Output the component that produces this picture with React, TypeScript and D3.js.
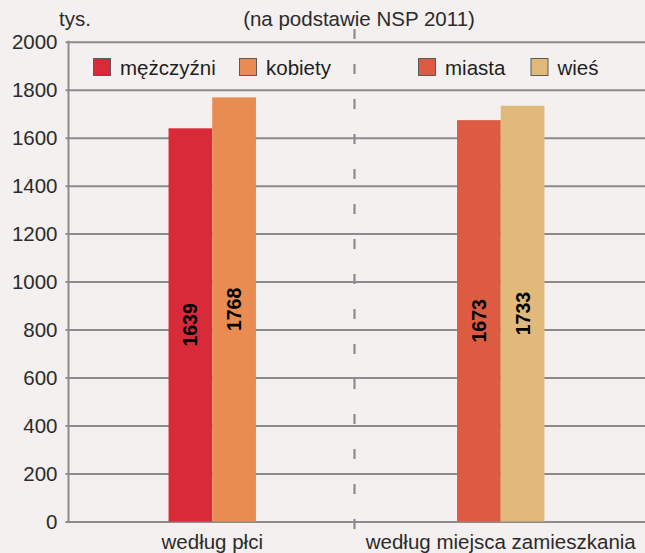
import React, { useEffect, useRef } from 'react';
import * as d3 from 'd3';

// Ludność według płci i miejsca zamieszkania (tys.), NSP 2011
const groups = ['według płci', 'według miejsca zamieszkania'];
const seriesNames = [
  ['mężczyźni', 'kobiety'],
  ['miasta', 'wieś'],
];
const seriesValues = [
  [1639, 1768],
  [1673, 1733],
];
const seriesColors = [
  ['#d82a38', '#e88c52'],
  ['#dd5a43', '#e0b97b'],
];
const yTicks = [0, 200, 400, 600, 800, 1000, 1200, 1400, 1600, 1800, 2000];

const width = 645;
const height = 553;

const App: React.FC = () => {
  const svgRef = useRef<SVGSVGElement>(null);

  useEffect(() => {
    if (!svgRef.current) return;
    const svg = d3.select(svgRef.current);
    svg.selectAll('*').remove();

    const font = '"Liberation Sans", Arial, sans-serif';
    const gridColor = '#8c8c8c';

    svg.append('rect')
      .attr('width', width)
      .attr('height', height)
      .attr('fill', '#f4f0ef');

    // Scales
    const xScale = d3.scaleBand<string>()
      .domain(groups)
      .range([68, 645])
      .padding(0);

    const inner = d3.scaleBand<number>()
      .domain([0, 1])
      .range([0, xScale.bandwidth()])
      .paddingInner(0)
      .paddingOuter(2.3);

    const yScale = d3.scaleLinear()
      .domain([0, 2000])
      .range([521.5, 41.7]);

    // Grid lines + y axis
    const yAxis = d3.axisLeft(yScale)
      .tickValues(yTicks)
      .tickSize(-(645 - 68))
      .tickPadding(10)
      .tickFormat(d => `${d}`);

    const axisG = svg.append('g')
      .attr('transform', 'translate(68.5,0)')
      .call(yAxis);
    axisG.select('.domain').remove();
    axisG.selectAll('.tick line')
      .attr('x1', -3)
      .attr('stroke', gridColor)
      .attr('stroke-width', 2);
    axisG.selectAll('.tick text')
      .attr('x', -11)
      .style('font-family', font)
      .style('font-size', '20.5px')
      .attr('fill', '#2b2b2b');

    svg.append('line')
      .attr('x1', 68.5).attr('x2', 68.5)
      .attr('y1', yScale(2000) - 1).attr('y2', yScale(0) + 1)
      .attr('stroke', gridColor)
      .attr('stroke-width', 2);

    // Dashed divider between groups
    const divX = (xScale(groups[1]) as number) - 2;
    svg.append('line')
      .attr('x1', divX).attr('x2', divX)
      .attr('y1', 29).attr('y2', 530)
      .attr('stroke', gridColor)
      .attr('stroke-width', 2.2)
      .attr('stroke-dasharray', '10,25');

    // Bars
    groups.forEach((grp, gi) => {
      const g0 = xScale(grp) as number;
      seriesValues[gi].forEach((v, si) => {
        const x = g0 + (inner(si) as number);
        const w = inner.bandwidth();
        svg.append('rect')
          .attr('x', x)
          .attr('y', yScale(v))
          .attr('width', w)
          .attr('height', yScale(0) - yScale(v))
          .attr('fill', seriesColors[gi][si]);

        const cx = x + w / 2;
        const cy = (yScale(v) + yScale(0)) / 2;
        svg.append('text')
          .attr('transform', `translate(${cx},${cy}) rotate(-90)`)
          .attr('text-anchor', 'middle')
          .attr('dominant-baseline', 'central')
          .style('font-family', font)
          .style('font-size', '19.5px')
          .style('font-weight', 'bold')
          .attr('fill', '#000')
          .text(v);
      });

      // Category label
      svg.append('text')
        .attr('x', g0 + xScale.bandwidth() / 2)
        .attr('y', 549)
        .attr('text-anchor', 'middle')
        .style('font-family', font)
        .style('font-size', '20.5px')
        .attr('fill', '#2b2b2b')
        .text(grp);
    });

    // Legend
    const legendX = [[93.5, 239.5], [418.5, 531]];
    groups.forEach((_, gi) => {
      seriesNames[gi].forEach((name, si) => {
        const lx = legendX[gi][si];
        svg.append('rect')
          .attr('x', lx)
          .attr('y', 58.5)
          .attr('width', 17)
          .attr('height', 17)
          .attr('fill', seriesColors[gi][si])
          .attr('stroke', '#5a5a5a')
          .attr('stroke-width', 1);
        svg.append('text')
          .attr('x', lx + 26.5)
          .attr('y', 75)
          .style('font-family', font)
          .style('font-size', '20.5px')
          .attr('fill', '#1e1e1e')
          .text(name);
      });
    });

    // Unit + subtitle
    svg.append('text')
      .attr('x', 59)
      .attr('y', 26)
      .style('font-family', font)
      .style('font-size', '20.5px')
      .attr('fill', '#2b2b2b')
      .text('tys.');

    svg.append('text')
      .attr('x', 359)
      .attr('y', 26)
      .attr('text-anchor', 'middle')
      .style('font-family', font)
      .style('font-size', '20.5px')
      .attr('fill', '#2b2b2b')
      .text('(na podstawie NSP 2011)');
  }, []);

  return (
    <svg
      ref={svgRef}
      width={width}
      height={height}
      style={{ position: 'absolute', left: 0, top: 0, display: 'block' }}
    />
  );
};

export default App;
